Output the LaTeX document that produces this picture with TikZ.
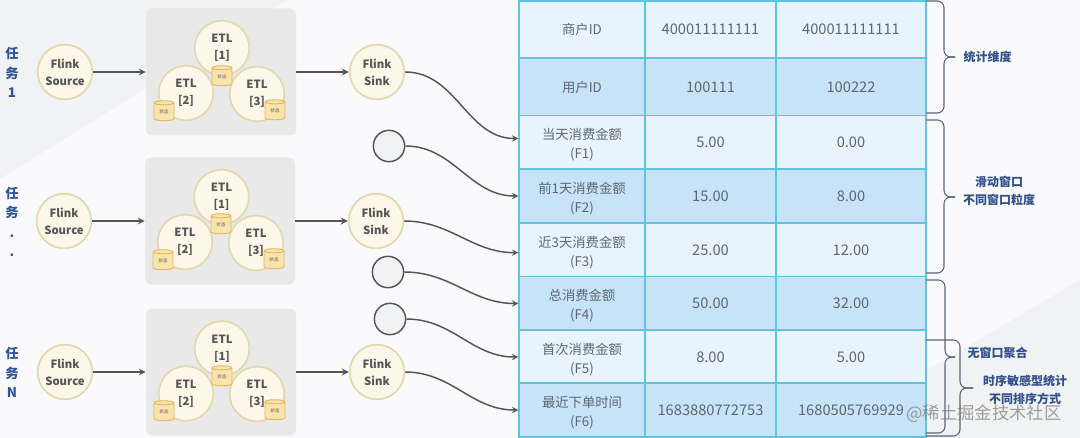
\documentclass[tikz,border=0pt]{standalone}
\usepackage{xcolor}
\usepackage{fontspec}
\setmainfont{Noto Sans CJK SC}
\usetikzlibrary{shapes.geometric}

\definecolor{pagebg}{HTML}{FAFAFC}
\definecolor{pageshade}{HTML}{F1F2F3}
\definecolor{panelgray}{HTML}{E9E9EA}
\definecolor{creamfill}{HTML}{FDF7EA}
\definecolor{creamline}{HTML}{E3D9B0}
\definecolor{storefill}{HTML}{FBE3AC}
\definecolor{storeline}{HTML}{E0B860}
\definecolor{arrowgray}{HTML}{555555}
\definecolor{celllight}{HTML}{E8F4FD}
\definecolor{celldark}{HTML}{C6E3F8}
\definecolor{cellline}{HTML}{5FC4DC}
\definecolor{celltext}{HTML}{5F6770}
\definecolor{bracegray}{HTML}{5A6478}
\definecolor{tasktext}{HTML}{2F5597}
\definecolor{notetext}{HTML}{34508C}

\tikzset{
	panelbox/.style={fill=panelgray,rounded corners=4pt,minimum width=112.5pt,minimum height=95.25pt},
	flinknode/.style={circle,draw=creamline,fill=creamfill,line width=1.3pt,minimum size=41pt,inner sep=0pt,align=center,text=arrowgray,font=\bfseries\fontsize{8.5}{12.6}\selectfont},
	etlnode/.style={flinknode},
	storenode/.style={cylinder,shape border rotate=90,aspect=0.45,draw=storeline,fill=storefill,line width=0.7pt,minimum width=15pt,minimum height=15pt,inner sep=0pt,text=arrowgray,font=\fontsize{3.4}{4}\selectfont},
	emptynode/.style={circle,draw=arrowgray,fill=pageshade,line width=1.1pt,minimum size=23.5pt,inner sep=0pt},
	tasklabel/.style={align=center,text=tasktext,font=\bfseries\fontsize{10}{14.6}\selectfont},
	cellnode/.style={draw=cellline,line width=1.1pt,inner sep=0pt,align=center,text=celltext,minimum height=40.5pt,font=\fontsize{10}{14}\selectfont},
	numnode/.style={font=\fontsize{11}{15}\selectfont},
	lightcell/.style={cellnode,fill=celllight},
	darkcell/.style={cellnode,fill=celldark},
	cola/.style={minimum width=94.5pt},
	colb/.style={minimum width=98.25pt},
	colc/.style={minimum width=112.5pt},
	tallrow/.style={minimum height=42.75pt},
	tworow/.style={text height=26pt},
	flowline/.style={arrowgray,line width=1.3pt,-stealth},
	curveline/.style={arrowgray,line width=1.1pt,-stealth,out=0,in=180},
	braceline/.style={bracegray,line width=0.8pt,rounded corners=5pt},
	notelabel/.style={align=center,text=notetext,font=\bfseries\fontsize{9}{13.5}\selectfont}
}

\begin{document}
\begin{tikzpicture}[x=0.75pt,y=-0.75pt]
			\useasboundingbox (0,0) rectangle (1080,438);
			\fill[pagebg] (0,0) rectangle (1080,438);
			\fill[pageshade] (0,0) -- (287,0) -- (0,179) -- cycle;
			\fill[pageshade] (1080,280) -- (1080,438) -- (812,438) -- cycle;
			
			% task 1
			\node (task1) at (12,72.5) [tasklabel] {任\\务\\1};
			\node (src1) at (65,72) [flinknode] {Flink\\Source};
			\node (panel1) at (221,72) [panelbox] {};
			\node (etl11) at (222,48) [etlnode] {ETL\\{[1]}};
			\node (etl12) at (186,93) [etlnode] {ETL\\{[2]}};
			\node (etl13) at (257,94) [etlnode] {ETL\\{[3]}};
			\node (state11) at (222,77) [storenode] {状态};
			\node (state12) at (164,112) [storenode] {状态};
			\node (state13) at (275,111) [storenode] {状态};
			\node (sink1) at (377,72) [flinknode] {Flink\\Sink};
			
			% task 2
			\node (task2) at (12,222) [tasklabel] {任\\务\\.\\.};
			\node (src2) at (64,221) [flinknode] {Flink\\Source};
			\node (panel2) at (220,221) [panelbox] {};
			\node (etl21) at (221.5,197) [etlnode] {ETL\\{[1]}};
			\node (etl22) at (185,242) [etlnode] {ETL\\{[2]}};
			\node (etl23) at (256,243) [etlnode] {ETL\\{[3]}};
			\node (state21) at (221,225) [storenode] {状态};
			\node (state22) at (163,261) [storenode] {状态};
			\node (state23) at (274,260) [storenode] {状态};
			\node (sink2) at (376,221) [flinknode] {Flink\\Sink};
			
			% task N
			\node (task3) at (12,372.5) [tasklabel] {任\\务\\N};
			\node (src3) at (65,372) [flinknode] {Flink\\Source};
			\node (panel3) at (221,372) [panelbox] {};
			\node (etl31) at (222,348.5) [etlnode] {ETL\\{[1]}};
			\node (etl32) at (186,393.5) [etlnode] {ETL\\{[2]}};
			\node (etl33) at (257,394) [etlnode] {ETL\\{[3]}};
			\node (state31) at (222,377) [storenode] {状态};
			\node (state32) at (164,412) [storenode] {状态};
			\node (state33) at (275,411) [storenode] {状态};
			\node (sink3) at (377,372) [flinknode] {Flink\\Sink};
			
			% empty sources
			\node (empty1) at (389,146) [emptynode] {};
			\node (empty2) at (388,272) [emptynode] {};
			\node (empty3) at (390,319) [emptynode] {};
			
			% table
			\node (a1) at (582,29.5) [lightcell,cola,tallrow] {商户ID};
			\node (b1) at (710.5,29.5) [lightcell,colb,tallrow,numnode] {400011111111};
			\node (c1) at (851,29.5) [lightcell,colc,tallrow,numnode] {400011111111};
			\node (a2) at (582,87) [darkcell,cola,tallrow] {用户ID};
			\node (b2) at (710.5,87) [darkcell,colb,tallrow,numnode] {100111};
			\node (c2) at (851,87) [darkcell,colc,tallrow,numnode] {100222};
			\node (a3) at (582,142.5) [lightcell,cola,tworow] {当天消费金额\\(F1)};
			\node (b3) at (710.5,142.5) [lightcell,colb,numnode] {5.00};
			\node (c3) at (851,142.5) [lightcell,colc,numnode] {0.00};
			\node (a4) at (582,196) [darkcell,cola,tworow] {前1天消费金额\\(F2)};
			\node (b4) at (710.5,196) [darkcell,colb,numnode] {15.00};
			\node (c4) at (851,196) [darkcell,colc,numnode] {8.00};
			\node (a5) at (582,250) [lightcell,cola,tworow] {近3天消费金额\\(F3)};
			\node (b5) at (710.5,250) [lightcell,colb,numnode] {25.00};
			\node (c5) at (851,250) [lightcell,colc,numnode] {12.00};
			\node (a6) at (582,303.5) [darkcell,cola,tworow] {总消费金额\\(F4)};
			\node (b6) at (710.5,303.5) [darkcell,colb,numnode] {50.00};
			\node (c6) at (851,303.5) [darkcell,colc,numnode] {32.00};
			\node (a7) at (582,357) [lightcell,cola,tworow] {首次消费金额\\(F5)};
			\node (b7) at (710.5,357) [lightcell,colb,numnode] {8.00};
			\node (c7) at (851,357) [lightcell,colc,numnode] {5.00};
			\node (a8) at (582,410) [darkcell,cola,tworow] {最近下单时间\\(F6)};
			\node (b8) at (710.5,410) [darkcell,colb,numnode] {1683880772753};
			\node (c8) at (851,410) [darkcell,colc,numnode] {1680505769929};
			
			% arrows
			\draw[flowline] (src1) -- (panel1);
			\draw[flowline] (panel1) -- (sink1);
			\draw[flowline] (src2) -- (panel2);
			\draw[flowline] (panel2) -- (sink2);
			\draw[flowline] (src3) -- (panel3);
			\draw[flowline] (panel3) -- (sink3);
			\draw[curveline] (sink1.east) to ([yshift=3pt]a3.west);
			\draw[curveline] (empty1.east) to (a4.west);
			\draw[curveline] (sink2.east) to ([yshift=-2pt]a5.west);
			\draw[curveline] (empty2.east) to (a6.west);
			\draw[curveline] (empty3.east) to (a7.west);
			\draw[curveline] (sink3.east) to (a8.west);
			
			% braces
			\draw[braceline] (926,1) -- (944,1) -- (944,57) -- (955,57);
			\draw[braceline] (926,113) -- (944,113) -- (944,57) -- (955,57);
			\draw[braceline] (926,120) -- (944,120) -- (944,197) -- (955,197);
			\draw[braceline] (926,273) -- (944,273) -- (944,197) -- (955,197);
			\draw[braceline] (926,280) -- (945,280) -- (945,357) -- (955,357);
			\draw[braceline] (926,433) -- (945,433) -- (945,357) -- (955,357);
			\draw[braceline] (926,340) -- (960,340) -- (960,388) -- (973,388);
			\draw[braceline] (926,436) -- (960,436) -- (960,388) -- (973,388);
			
			\node (note1) at (987.5,57) [notelabel] {统计维度};
			\node (note2) at (999,191) [notelabel] {滑动窗口\\不同窗口粒度};
			\node (note3) at (997.5,353) [notelabel] {无窗口聚合};
			\node (note4) at (1025,390) [notelabel] {时序敏感型统计\\不同排序方式};
			\node (mark) at (984,414) [text=gray,opacity=0.75,font=\fontsize{13}{15}\selectfont] {@稀土掘金技术社区};
		\end{tikzpicture}
\end{document}
